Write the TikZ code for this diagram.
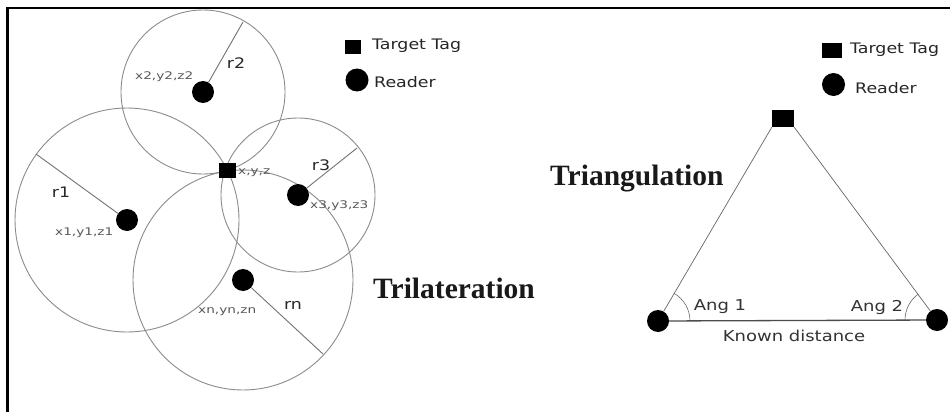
\documentclass[tikz,border=0pt]{standalone}
\usepackage{fontspec}
\setmainfont{Liberation Serif}
\newfontfamily\lblfont[FakeStretch=1.2]{DejaVu Sans}
\newfontfamily\crdfont[FakeStretch=1.3]{DejaVu Sans}
\usetikzlibrary{calc}

\begin{document}
\begin{tikzpicture}[x=1pt,y=-1pt,
  ring/.style={draw=black!45, line width=0.9pt},
  spoke/.style={draw=black!55, line width=0.9pt},
  reader/.style={circle, fill=black, inner sep=0pt, minimum size=22pt},
  tag/.style={rectangle, fill=black, inner sep=0pt, minimum width=17pt, minimum height=15pt},
  lbl/.style={font=\lblfont\fontsize{14.5}{16}\selectfont, text=black!85, inner sep=0pt},
  angl/.style={font=\lblfont\fontsize{15}{17}\selectfont, text=black!80, inner sep=0pt},
  crd/.style={font=\crdfont\fontsize{10.5}{12}\selectfont, text=black!65, inner sep=0pt},
  title/.style={font=\bfseries\fontsize{29.5}{34}\selectfont, text=black!90, inner sep=0pt, anchor=base west}]

\useasboundingbox (0,0) rectangle (950,412);
\fill[white] (0,0) rectangle (950,412);

% outer frame (only top and left edges lie inside the page)
\draw[line width=2.2pt] (960,8) -- (7,8);
\draw[line width=3pt] (7,420) -- (7,7);

% ---------------- Trilateration ----------------
\coordinate (c1) at (127,220);
\coordinate (c2) at (203,92);
\coordinate (c3) at (298,195);
\coordinate (cn) at (243,280);

\draw[ring] (c1) circle[radius=112pt];
\draw[ring] (c2) circle[radius=82pt];
\draw[ring] (c3) circle[radius=77pt];
\draw[ring] (cn) circle[radius=110pt];

\coordinate (e1) at (36,154);
\coordinate (e2) at (243,22);
\coordinate (e3) at (357,148);
\coordinate (en) at (323,354);

\node[reader] (R1) at (c1) {};
\node[reader] (R2) at (c2) {};
\node[reader] (R3) at (c3) {};
\node[reader] (Rn) at (cn) {};
\node[tag] (T) at (227,170) {};

\draw[spoke] (R1) -- (e1);
\draw[spoke] (R2) -- (e2);
\draw[spoke] (R3) -- (e3);
\draw[spoke] (Rn) -- (en);

\node[lbl] (l1) at (61,192) {r1};
\node[lbl] (l2) at (236,63) {r2};
\node[lbl] (l3) at (321,165) {r3};
\node[lbl] (ln) at (293,305) {rn};

\node[crd, anchor=west] (p1) at (55,233) {x1,y1,z1};
\node[crd, anchor=west] (p2) at (135,77) {x2,y2,z2};
\node[crd, anchor=west] (p3) at (310,206) {x3,y3,z3};
\node[crd, anchor=west] (pn) at (198,312) {xn,yn,zn};
\node[crd, anchor=west] (pt) at (238,173) {x,y,z};

\node[title] (tri) at (373,298) {Trilateration};

% legend
\node[tag, minimum width=16pt, minimum height=14pt] (gT1) at (353,47.5) {};
\node[reader, minimum size=23pt] (gR1) at (357,80) {};
\node[lbl, anchor=west] (gt1) at (372,46) {Target Tag};
\node[lbl, anchor=west] (gr1) at (374,82) {Reader};

% ---------------- Triangulation ----------------
\node[tag, minimum width=22pt, minimum height=17pt] (T2) at (783,118.5) {};
\node[reader] (L) at (658,321) {};
\node[reader] (Rr) at (937,320) {};

\draw[black!60, line width=0.7pt] (T2.south west) -- (L);
\draw[black!60, line width=0.7pt] (T2.south east) -- (Rr);
\draw[black!70, line width=1.3pt] (L) -- (Rr);

\draw[black!60, line width=0.6pt] ($(L)+(32,0)$) arc[start angle=0, end angle=60, radius=32pt];
\draw[black!60, line width=0.6pt] ($(Rr)+(-32,0)$) arc[start angle=180, end angle=126, radius=32pt];

\node[angl] (a1) at (720,307) {Ang 1};
\node[angl] (a2) at (877,307) {Ang 2};
\node[angl] (kd) at (794,336) {Known distance};

\node[title] (trg) at (550,185) {Triangulation};

% legend
\node[tag, minimum width=20pt, minimum height=15pt] (gT2) at (832,50.5) {};
\node[reader, minimum size=23pt] (gR2) at (833.5,84.5) {};
\node[lbl, anchor=west] (gt2) at (850,50) {Target Tag};
\node[lbl, anchor=west] (gr2) at (855,88) {Reader};
\end{tikzpicture}
\end{document}
